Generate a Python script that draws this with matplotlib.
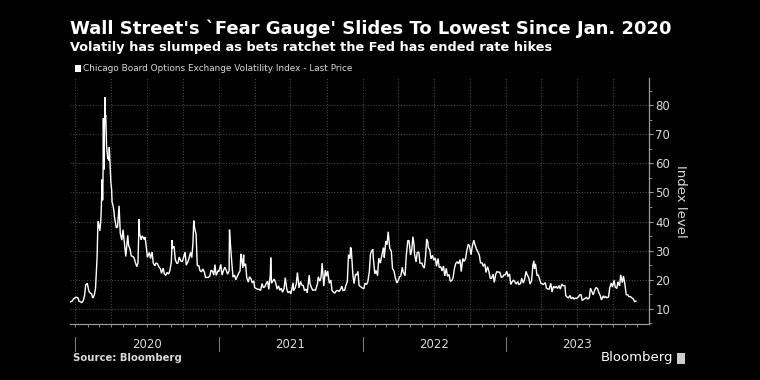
import matplotlib
matplotlib.use("Agg")
import matplotlib.pyplot as plt
import matplotlib.dates as mdates
import matplotlib.transforms as mtrans
import pandas as pd
import numpy as np

# ---------------- data ----------------
vix_2019 = [("2019-12-17", 12.3), ("2019-12-20", 12.5), ("2019-12-23", 12.6), ("2019-12-27", 13.4), ("2019-12-31", 13.8)]
vix_2020 = [
    ("2020-01-03", 14.0), ("2020-01-07", 13.8), ("2020-01-10", 12.6), ("2020-01-14", 12.4), ("2020-01-17", 12.1),
    ("2020-01-21", 12.9), ("2020-01-24", 14.6), ("2020-01-27", 18.2), ("2020-01-31", 18.8), ("2020-02-04", 16.1),
    ("2020-02-07", 15.5), ("2020-02-11", 15.2), ("2020-02-14", 13.7), ("2020-02-18", 14.8), ("2020-02-21", 17.1),
    ("2020-02-24", 25.0), ("2020-02-25", 27.9), ("2020-02-27", 39.2), ("2020-02-28", 40.1), ("2020-03-03", 36.8),
    ("2020-03-05", 39.6), ("2020-03-06", 41.9), ("2020-03-09", 54.5), ("2020-03-10", 47.3), ("2020-03-11", 53.9),
    ("2020-03-12", 75.5), ("2020-03-13", 57.8), ("2020-03-16", 82.7), ("2020-03-17", 75.9), ("2020-03-18", 76.5),
    ("2020-03-19", 72.0), ("2020-03-20", 66.0), ("2020-03-23", 61.6), ("2020-03-24", 61.7), ("2020-03-26", 61.0),
    ("2020-03-27", 65.5), ("2020-03-31", 53.5), ("2020-04-02", 50.9), ("2020-04-03", 46.8), ("2020-04-06", 45.2),
    ("2020-04-08", 43.4), ("2020-04-09", 41.7), ("2020-04-14", 37.8), ("2020-04-17", 38.2), ("2020-04-21", 45.4),
    ("2020-04-24", 35.9), ("2020-04-28", 33.6), ("2020-05-01", 37.2), ("2020-05-05", 32.0), ("2020-05-08", 28.0),
    ("2020-05-13", 35.3), ("2020-05-15", 31.9), ("2020-05-19", 30.5), ("2020-05-22", 28.2), ("2020-05-26", 28.0),
    ("2020-05-29", 27.5), ("2020-06-02", 25.7), ("2020-06-05", 24.5), ("2020-06-08", 25.8), ("2020-06-11", 40.8),
    ("2020-06-12", 36.1), ("2020-06-16", 33.7), ("2020-06-19", 35.1), ("2020-06-24", 33.8), ("2020-06-26", 34.7),
    ("2020-06-30", 30.4), ("2020-07-02", 27.7), ("2020-07-07", 29.4), ("2020-07-10", 27.3), ("2020-07-14", 29.5),
    ("2020-07-17", 25.7), ("2020-07-21", 24.8), ("2020-07-24", 25.8), ("2020-07-28", 25.4), ("2020-07-31", 24.5),
    ("2020-08-04", 23.8), ("2020-08-07", 22.2), ("2020-08-11", 24.0), ("2020-08-14", 22.1), ("2020-08-18", 21.5),
    ("2020-08-21", 22.5), ("2020-08-25", 22.0), ("2020-08-28", 23.0), ("2020-09-01", 26.1), ("2020-09-03", 33.6),
    ("2020-09-04", 30.8), ("2020-09-08", 31.5), ("2020-09-11", 26.9), ("2020-09-15", 25.6), ("2020-09-18", 25.8),
    ("2020-09-21", 27.8), ("2020-09-25", 26.4), ("2020-09-29", 26.3), ("2020-10-02", 27.6), ("2020-10-06", 29.5),
    ("2020-10-09", 25.0), ("2020-10-13", 26.1), ("2020-10-16", 27.4), ("2020-10-20", 29.4), ("2020-10-23", 27.6),
    ("2020-10-26", 32.5), ("2020-10-28", 40.3), ("2020-10-30", 38.0), ("2020-11-03", 35.6), ("2020-11-06", 24.9),
    ("2020-11-10", 24.8), ("2020-11-13", 23.1), ("2020-11-17", 22.7), ("2020-11-20", 23.7), ("2020-11-24", 22.7),
    ("2020-11-27", 20.8), ("2020-12-01", 20.8), ("2020-12-04", 20.8), ("2020-12-08", 21.3), ("2020-12-11", 23.3),
    ("2020-12-15", 22.9), ("2020-12-18", 21.6), ("2020-12-21", 25.2), ("2020-12-24", 21.5), ("2020-12-29", 23.1),
    ("2020-12-31", 22.8),
]
vix_2021 = [
    ("2021-01-05", 25.3), ("2021-01-08", 21.6), ("2021-01-12", 23.3), ("2021-01-15", 24.3), ("2021-01-19", 23.2),
    ("2021-01-22", 21.9), ("2021-01-26", 23.0), ("2021-01-27", 37.2), ("2021-01-29", 33.1), ("2021-02-02", 25.6),
    ("2021-02-05", 20.9), ("2021-02-09", 21.6), ("2021-02-12", 20.0), ("2021-02-17", 21.5), ("2021-02-19", 22.1),
    ("2021-02-23", 23.1), ("2021-02-25", 28.9), ("2021-02-26", 28.0), ("2021-03-02", 24.1), ("2021-03-04", 28.6),
    ("2021-03-05", 24.7), ("2021-03-09", 25.5), ("2021-03-12", 20.7), ("2021-03-16", 19.2), ("2021-03-19", 21.0),
    ("2021-03-23", 20.3), ("2021-03-26", 18.9), ("2021-03-30", 19.6), ("2021-04-01", 17.3), ("2021-04-09", 16.7),
    ("2021-04-13", 16.7), ("2021-04-16", 16.3), ("2021-04-20", 18.7), ("2021-04-23", 17.3), ("2021-04-27", 17.6),
    ("2021-04-30", 18.6), ("2021-05-04", 19.5), ("2021-05-07", 16.7), ("2021-05-11", 21.8), ("2021-05-12", 27.6),
    ("2021-05-14", 18.8), ("2021-05-18", 19.7), ("2021-05-21", 20.2), ("2021-05-25", 18.8), ("2021-05-28", 16.8),
    ("2021-06-01", 17.9), ("2021-06-04", 16.4), ("2021-06-08", 17.1), ("2021-06-11", 15.7), ("2021-06-15", 17.0),
    ("2021-06-18", 20.7), ("2021-06-22", 16.7), ("2021-06-25", 15.6), ("2021-06-29", 16.0), ("2021-07-02", 15.1),
    ("2021-07-08", 19.0), ("2021-07-09", 16.2), ("2021-07-13", 17.1), ("2021-07-16", 18.5), ("2021-07-19", 22.5),
    ("2021-07-23", 17.2), ("2021-07-27", 19.4), ("2021-07-30", 18.2), ("2021-08-03", 18.0), ("2021-08-06", 16.2),
    ("2021-08-10", 16.8), ("2021-08-13", 15.5), ("2021-08-18", 21.6), ("2021-08-20", 18.6), ("2021-08-24", 17.2),
    ("2021-08-27", 16.4), ("2021-08-31", 16.5), ("2021-09-03", 16.4), ("2021-09-08", 18.6), ("2021-09-10", 21.0),
    ("2021-09-14", 19.5), ("2021-09-17", 20.8), ("2021-09-20", 25.7), ("2021-09-24", 17.8), ("2021-09-28", 23.3),
    ("2021-10-01", 21.2), ("2021-10-04", 23.0), ("2021-10-08", 18.8), ("2021-10-12", 19.9), ("2021-10-15", 16.3),
    ("2021-10-19", 15.7), ("2021-10-22", 15.4), ("2021-10-26", 16.2), ("2021-10-29", 16.3), ("2021-11-02", 16.0),
    ("2021-11-05", 16.5), ("2021-11-09", 17.8), ("2021-11-12", 16.3), ("2021-11-16", 16.4), ("2021-11-19", 17.9),
    ("2021-11-23", 19.4), ("2021-11-26", 28.6), ("2021-11-30", 27.2), ("2021-12-01", 31.1), ("2021-12-03", 30.7),
    ("2021-12-07", 21.9), ("2021-12-10", 18.7), ("2021-12-14", 21.9), ("2021-12-17", 21.6), ("2021-12-20", 22.9),
    ("2021-12-23", 18.0), ("2021-12-28", 17.5), ("2021-12-31", 17.2),
]
vix_2022 = [
    ("2022-01-04", 16.9), ("2022-01-07", 18.8), ("2022-01-11", 18.4), ("2022-01-14", 19.2), ("2022-01-18", 22.8),
    ("2022-01-21", 28.9), ("2022-01-24", 29.9), ("2022-01-27", 30.5), ("2022-01-28", 27.7), ("2022-02-01", 22.0),
    ("2022-02-04", 23.2), ("2022-02-08", 21.4), ("2022-02-11", 27.4), ("2022-02-15", 25.7), ("2022-02-18", 27.8),
    ("2022-02-23", 31.0), ("2022-02-24", 30.3), ("2022-02-25", 27.6), ("2022-03-01", 33.3), ("2022-03-04", 32.0),
    ("2022-03-07", 36.5), ("2022-03-08", 35.1), ("2022-03-11", 30.8), ("2022-03-15", 29.8), ("2022-03-18", 23.9),
    ("2022-03-22", 22.9), ("2022-03-25", 20.8), ("2022-03-29", 18.9), ("2022-04-01", 19.6), ("2022-04-05", 21.0),
    ("2022-04-08", 21.2), ("2022-04-12", 24.3), ("2022-04-14", 22.7), ("2022-04-19", 21.4), ("2022-04-22", 28.2),
    ("2022-04-26", 33.5), ("2022-04-29", 33.4), ("2022-05-03", 28.5), ("2022-05-06", 30.2), ("2022-05-09", 34.8),
    ("2022-05-12", 31.8), ("2022-05-13", 28.9), ("2022-05-17", 26.1), ("2022-05-20", 29.4), ("2022-05-24", 29.5),
    ("2022-05-27", 25.7), ("2022-06-01", 25.7), ("2022-06-03", 24.8), ("2022-06-07", 24.0), ("2022-06-10", 27.8),
    ("2022-06-13", 34.0), ("2022-06-16", 33.0), ("2022-06-17", 31.1), ("2022-06-21", 30.2), ("2022-06-24", 27.2),
    ("2022-06-28", 28.4), ("2022-07-01", 26.7), ("2022-07-05", 27.5), ("2022-07-08", 24.6), ("2022-07-12", 27.3),
    ("2022-07-15", 24.2), ("2022-07-19", 24.5), ("2022-07-22", 23.0), ("2022-07-26", 24.7), ("2022-07-29", 21.3),
    ("2022-08-02", 23.9), ("2022-08-05", 21.2), ("2022-08-09", 21.8), ("2022-08-12", 19.5), ("2022-08-16", 19.7),
    ("2022-08-19", 20.6), ("2022-08-23", 24.1), ("2022-08-26", 25.6), ("2022-08-30", 26.2), ("2022-09-02", 25.5),
    ("2022-09-06", 26.9), ("2022-09-09", 22.8), ("2022-09-13", 27.3), ("2022-09-16", 26.3), ("2022-09-20", 27.2),
    ("2022-09-23", 29.9), ("2022-09-27", 32.2), ("2022-09-30", 31.6), ("2022-10-04", 28.6), ("2022-10-07", 31.4),
    ("2022-10-11", 33.6), ("2022-10-14", 32.0), ("2022-10-18", 30.5), ("2022-10-21", 29.7), ("2022-10-25", 28.5),
    ("2022-10-28", 25.8), ("2022-11-01", 25.8), ("2022-11-04", 24.6), ("2022-11-08", 25.5), ("2022-11-11", 22.5),
    ("2022-11-15", 24.5), ("2022-11-18", 23.1), ("2022-11-22", 20.4), ("2022-11-25", 20.5), ("2022-11-29", 21.9),
    ("2022-12-02", 19.1), ("2022-12-06", 22.0), ("2022-12-09", 22.8), ("2022-12-13", 22.6), ("2022-12-16", 22.6),
    ("2022-12-20", 20.9), ("2022-12-23", 20.9), ("2022-12-27", 21.7), ("2022-12-30", 21.7),
]
vix_2023 = [
    ("2023-01-03", 22.9), ("2023-01-06", 21.1), ("2023-01-10", 22.0), ("2023-01-13", 18.4), ("2023-01-17", 19.4),
    ("2023-01-20", 19.9), ("2023-01-24", 19.2), ("2023-01-27", 18.5), ("2023-01-31", 19.4), ("2023-02-03", 18.3),
    ("2023-02-07", 18.7), ("2023-02-10", 20.5), ("2023-02-14", 18.9), ("2023-02-17", 20.0), ("2023-02-21", 22.9),
    ("2023-02-24", 21.7), ("2023-02-28", 20.7), ("2023-03-03", 18.5), ("2023-03-07", 19.6), ("2023-03-09", 22.6),
    ("2023-03-10", 24.8), ("2023-03-13", 26.5), ("2023-03-14", 23.7), ("2023-03-17", 25.5), ("2023-03-21", 21.4),
    ("2023-03-24", 21.7), ("2023-03-28", 20.0), ("2023-03-31", 18.7), ("2023-04-04", 18.6), ("2023-04-06", 18.4),
    ("2023-04-11", 19.0), ("2023-04-14", 17.1), ("2023-04-18", 16.8), ("2023-04-21", 16.8), ("2023-04-25", 18.8),
    ("2023-04-28", 15.8), ("2023-05-02", 17.8), ("2023-05-05", 17.2), ("2023-05-09", 17.7), ("2023-05-12", 17.0),
    ("2023-05-16", 18.0), ("2023-05-19", 16.8), ("2023-05-23", 18.5), ("2023-05-26", 18.0), ("2023-05-31", 17.9),
    ("2023-06-02", 14.6), ("2023-06-06", 14.0), ("2023-06-09", 13.8), ("2023-06-13", 14.6), ("2023-06-16", 13.5),
    ("2023-06-20", 13.9), ("2023-06-23", 13.4), ("2023-06-27", 13.7), ("2023-06-30", 13.6), ("2023-07-05", 14.2),
    ("2023-07-07", 14.8), ("2023-07-11", 14.8), ("2023-07-14", 12.9), ("2023-07-18", 13.3), ("2023-07-21", 13.6),
    ("2023-07-25", 13.9), ("2023-07-28", 13.3), ("2023-08-01", 13.9), ("2023-08-04", 17.1), ("2023-08-08", 15.8),
    ("2023-08-11", 14.8), ("2023-08-15", 16.5), ("2023-08-18", 17.3), ("2023-08-22", 17.0), ("2023-08-25", 15.7),
    ("2023-08-29", 14.5), ("2023-09-01", 13.1), ("2023-09-06", 14.5), ("2023-09-08", 13.8), ("2023-09-12", 14.2),
    ("2023-09-15", 13.8), ("2023-09-19", 14.1), ("2023-09-22", 17.2), ("2023-09-26", 18.9), ("2023-09-29", 17.5),
    ("2023-10-03", 19.8), ("2023-10-06", 17.5), ("2023-10-10", 17.0), ("2023-10-13", 19.3), ("2023-10-17", 17.9),
    ("2023-10-20", 21.7), ("2023-10-24", 19.0), ("2023-10-27", 21.3), ("2023-10-31", 18.1), ("2023-11-03", 14.9),
    ("2023-11-07", 14.8), ("2023-11-10", 14.2), ("2023-11-14", 14.2), ("2023-11-17", 13.8), ("2023-11-21", 13.4),
    ("2023-11-24", 12.5), ("2023-11-28", 12.7),
]
year_labels = ["2020", "2021", "2022", "2023"]
y_ticks = [10, 20, 30, 40, 50, 60, 70, 80]

title = "Wall Street's `Fear Gauge' Slides To Lowest Since Jan. 2020"
subtitle = "Volatily has slumped as bets ratchet the Fed has ended rate hikes"
legend_label = "Chicago Board Options Exchange Volatility Index - Last Price"

rows = vix_2019 + vix_2020 + vix_2021 + vix_2022 + vix_2023
dates = pd.to_datetime([r[0] for r in rows])
values = [r[1] for r in rows]

# ---------------- figure ----------------
BG = "black"
TXT = "#d9d9d9"
GRID = "#444444"
fig = plt.figure(figsize=(7.6, 3.8), dpi=100, facecolor=BG)
ax = fig.add_axes([70 / 760, 1 - 324 / 380, (649 - 70) / 760, (324 - 78) / 380])
ax.set_facecolor(BG)

ax.plot(dates, values, color="white", lw=1.0, solid_joinstyle="miter")

ax.set_xlim(pd.Timestamp("2019-12-18"), pd.Timestamp("2023-12-31"))
ax.set_ylim(4.8, 89.3)

# y axis on the right
ax.yaxis.tick_right()
ax.yaxis.set_label_position("right")
ax.set_yticks(y_ticks)
ax.set_yticks(np.arange(5, 90, 5), minor=True)
ax.tick_params(axis="y", which="major", colors="#999999", labelcolor=TXT, labelsize=8.5,
               length=3, width=0.8, direction="out", pad=1.5)
ax.tick_params(axis="y", which="minor", colors="#999999", length=2, width=0.6, direction="out")
ax.set_ylabel("Index level", color=TXT, fontsize=9.5, rotation=270, labelpad=12)

# x axis: quarterly grid, monthly ticks
ax.xaxis.set_major_locator(mdates.MonthLocator(bymonth=[1, 4, 7, 10]))
ax.xaxis.set_minor_locator(mdates.MonthLocator())
ax.tick_params(axis="x", which="both", colors="#999999", length=2, width=0.6, direction="out",
               labelbottom=False)

ax.grid(True, which="major", color=GRID, linestyle=(0, (1, 1.5)), linewidth=0.8)

for s in ["top", "left"]:
    ax.spines[s].set_visible(False)
for s in ["right", "bottom"]:
    ax.spines[s].set_color("#999999")
    ax.spines[s].set_linewidth(0.9)

# year separators & labels below axis
trans = mtrans.blended_transform_factory(ax.transData, ax.transAxes)
for i, lab in enumerate(year_labels):
    yr = int(lab)
    start = mdates.date2num(pd.Timestamp(f"{yr}-01-01"))
    mid = mdates.date2num(pd.Timestamp(f"{yr}-07-01"))
    ax.plot([start, start], [-0.053, -0.11], transform=trans, color="#777777", lw=0.8, clip_on=False)
    ax.text(mid, -0.082, lab, transform=trans, color=TXT, fontsize=8.5, ha="center", va="center")

# titles
fig.text(70 / 760, 1 - 29 / 380, title, color="white", fontsize=13.0, fontweight="bold",
         ha="left", va="center")
fig.text(70 / 760, 1 - 47 / 380, subtitle, color="white", fontsize=9.25, fontweight="bold",
         ha="left", va="center")
fig.patches.append(plt.Rectangle((75 / 760, 1 - 71.5 / 380), 6 / 760, 6 / 380, transform=fig.transFigure,
                                 facecolor="white", edgecolor="none"))
fig.text(83 / 760, 1 - 68.5 / 380, legend_label, color=TXT, fontsize=6.4, ha="left", va="center")

fig.text(73 / 760, 1 - 358 / 380, "Source: Bloomberg", color=TXT, fontsize=7.3, fontweight="bold",
         ha="left", va="center")
fig.text(673 / 760, 1 - 358 / 380, "Bloomberg", color="white", fontsize=9.5,
         ha="right", va="center")
fig.patches.append(plt.Rectangle((677 / 760, 1 - 364 / 380), 8 / 760, 11 / 380, transform=fig.transFigure,
                                 facecolor="#cccccc", edgecolor="none"))

fig.savefig("out.png", dpi=100, facecolor=BG)
